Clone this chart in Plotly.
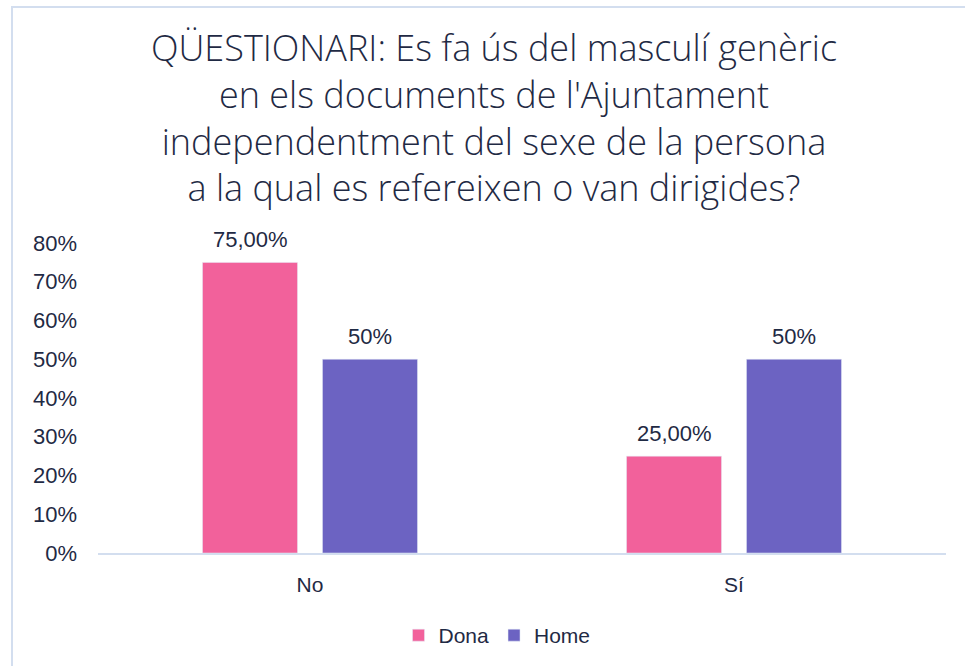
import plotly.graph_objects as go

categories = ["No", "Sí"]
dona_values = [0.75, 0.25]
home_values = [0.50, 0.50]
dona_labels = ["75,00%", "25,00%"]
home_labels = ["50%", "50%"]
y_ticks = [0, 0.1, 0.2, 0.3, 0.4, 0.5, 0.6, 0.7, 0.8]
y_tick_labels = ["0%", "10%", "20%", "30%", "40%", "50%", "60%", "70%", "80%"]

PINK = "#F2619B"
PURPLE = "#6C63C2"
TEXT = "#1F2A44"
LINE = "#D3DEEF"
NUM_FONT = "Liberation Sans, Arial, sans-serif"

fig = go.Figure()
fig.add_trace(go.Bar(name="Dona", x=categories, y=dona_values, marker=dict(color=PINK)))
fig.add_trace(go.Bar(name="Home", x=categories, y=home_values, marker=dict(color=PURPLE)))

# value labels above each bar, offset to the left/right slot of the group
for values, labels, shift in [(dona_values, dona_labels, -60), (home_values, home_labels, 60)]:
    for cat, val, lab in zip(categories, values, labels):
        fig.add_annotation(x=cat, y=val, text=lab, showarrow=False,
                           xshift=shift, yanchor="bottom", yshift=8,
                           font=dict(family=NUM_FONT, size=22, color=TEXT))

title_text = ("QÜESTIONARI: Es fa ús del masculí genèric<br>"
              "en els documents de l'Ajuntament<br>"
              "independentment del sexe de la persona<br>"
              "a la qual es refereixen o van dirigides?")

fig.update_layout(
    width=965, height=666,
    margin=dict(l=98, r=19, t=243, b=113, autoexpand=False),
    paper_bgcolor="white", plot_bgcolor="white",
    barmode="group", bargap=0.434, bargroupgap=0.208,
    title=dict(text=title_text, x=(494 - 98) / 848, xanchor="center", xref="paper",
               y=1 - 61 / 666, yanchor="top", yref="container",
               font=dict(family="Open Sans, sans-serif", size=36, color=TEXT, weight=300)),
    font=dict(family=NUM_FONT, size=21, color=TEXT),
    showlegend=True,
    legend=dict(orientation="h", x=(497 - 98) / 848, xanchor="center",
                y=-0.2, yanchor="top", font=dict(family=NUM_FONT, size=21, color=TEXT),
                traceorder="normal"),
    xaxis=dict(showgrid=False, showline=True, linecolor=LINE, linewidth=2,
               ticks="", ticklabelstandoff=12,
               tickfont=dict(family=NUM_FONT, size=21, color=TEXT)),
    yaxis=dict(range=[0, 0.8], tickvals=y_ticks, ticktext=y_tick_labels,
               showgrid=False, zeroline=False, showline=False, ticks="",
               ticklabelstandoff=20,
               tickfont=dict(family=NUM_FONT, size=22, color=TEXT)),
    shapes=[dict(type="rect", xref="paper", yref="paper",
                 x0=(12 - 98) / 848, x1=1.2, y0=-1.0, y1=(553 - 7) / 310,
                 line=dict(color=LINE, width=2), fillcolor="rgba(0,0,0,0)",
                 layer="below")],
)

fig.write_html("out.html")
